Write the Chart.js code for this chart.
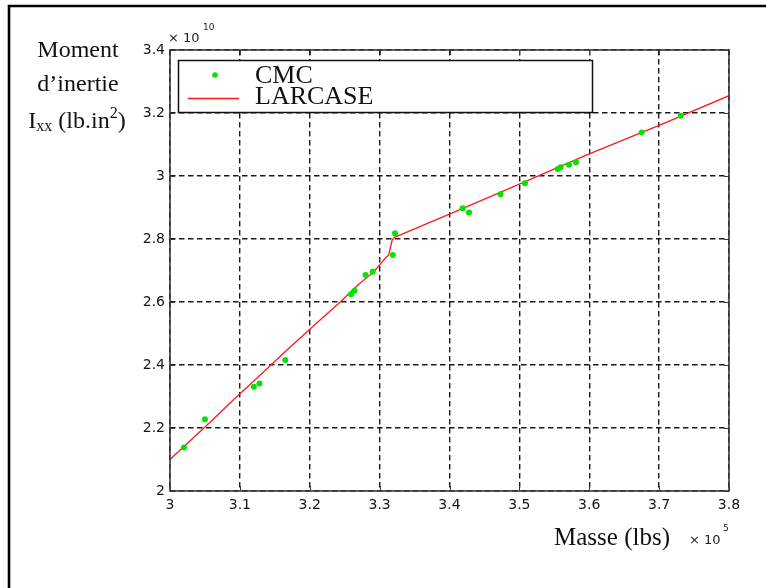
<!DOCTYPE html>
<html>
<head>
<meta charset="utf-8">
<script src="https://cdn.jsdelivr.net/npm/chart.js@4/dist/chart.umd.min.js"></script>
<style>
  html, body { margin: 0; padding: 0; background: #fff; }
  canvas { display: block; }
</style>
</head>
<body>
<canvas id="c" width="766" height="588"></canvas>
<script>
// Mass in units of 1e5 lbs, moment of inertia Ixx in units of 1e10 lb.in^2
const cmcMass = [3.020, 3.050, 3.120, 3.128, 3.165, 3.259, 3.264, 3.280, 3.290, 3.319, 3.322,
                 3.419, 3.428, 3.473, 3.508, 3.555, 3.559, 3.571, 3.581, 3.675, 3.731];
const cmcIxx  = [2.138, 2.228, 2.331, 2.341, 2.416, 2.625, 2.636, 2.686, 2.696, 2.749, 2.818,
                 2.898, 2.884, 2.942, 2.977, 3.022, 3.028, 3.036, 3.044, 3.138, 3.191];

const larcaseMass = [3.000, 3.030, 3.060, 3.090, 3.120, 3.167, 3.210, 3.244, 3.270, 3.291,
                     3.308, 3.313, 3.318, 3.322, 3.339, 3.400, 3.500, 3.600, 3.700, 3.800];
const larcaseIxx  = [2.100, 2.162, 2.224, 2.288, 2.349, 2.447, 2.533, 2.601, 2.656, 2.694,
                     2.739, 2.749, 2.797, 2.806, 2.822, 2.879, 2.974, 3.070, 3.161, 3.255];

const xTicks = [3, 3.1, 3.2, 3.3, 3.4, 3.5, 3.6, 3.7, 3.8];
const yTicks = [2, 2.2, 2.4, 2.6, 2.8, 3, 3.2, 3.4];

const seriesNames = ['CMC', 'LARCASE'];

const GREEN = '#00e400';
const RED = '#ff1a1a';
const SERIF = '"Liberation Serif", "Times New Roman", serif';
const SANS = '"DejaVu Sans", sans-serif';
const TXT = '#111';

const toPoints = (xs, ys) => xs.map((x, i) => ({ x: x, y: ys[i] }));

// Frame, axes box, inner ticks, axis titles, exponents and legend box
const decorations = {
  id: 'decorations',
  beforeDraw(chart) {
    const ctx = chart.ctx;
    ctx.save();
    ctx.fillStyle = '#fff';
    ctx.fillRect(0, 0, chart.width, chart.height);
    ctx.restore();
  },
  afterDraw(chart) {
    const ctx = chart.ctx;
    const a = chart.chartArea;
    const xs = chart.scales.x, ys = chart.scales.y;
    ctx.save();

    // outer frame (top and left edges)
    ctx.strokeStyle = '#000';
    ctx.lineWidth = 2.6;
    ctx.beginPath();
    ctx.moveTo(9, chart.height + 2);
    ctx.lineTo(9, 6);
    ctx.lineTo(chart.width + 2, 6);
    ctx.stroke();

    // axes box
    ctx.strokeStyle = '#3a3a3a';
    ctx.lineWidth = 1.6;
    ctx.strokeRect(a.left, a.top, a.right - a.left, a.bottom - a.top);

    // inner tick marks
    ctx.lineWidth = 1;
    ctx.beginPath();
    xTicks.forEach(v => {
      const px = Math.round(xs.getPixelForValue(v)) + 0.5;
      ctx.moveTo(px, a.bottom); ctx.lineTo(px, a.bottom - 5);
      ctx.moveTo(px, a.top); ctx.lineTo(px, a.top + 5);
    });
    yTicks.forEach(v => {
      const py = Math.round(ys.getPixelForValue(v)) + 0.5;
      ctx.moveTo(a.left, py); ctx.lineTo(a.left + 5, py);
      ctx.moveTo(a.right, py); ctx.lineTo(a.right - 5, py);
    });
    ctx.stroke();

    // exponent labels
    ctx.fillStyle = '#222';
    ctx.textBaseline = 'alphabetic';
    ctx.textAlign = 'left';
    ctx.font = '13px ' + SANS;
    ctx.fillText('\u00d7 10', a.left - 2, 42);
    ctx.font = '9px ' + SANS;
    ctx.fillText('10', a.left + 33, 30);
    ctx.font = '13px ' + SANS;
    ctx.fillText('\u00d7 10', 689, 544);
    ctx.font = '9px ' + SANS;
    ctx.fillText('5', 723, 531);

    // y axis title (three lines)
    ctx.fillStyle = TXT;
    ctx.textAlign = 'center';
    ctx.font = '24px ' + SERIF;
    ctx.fillText('Moment', 78, 57);
    ctx.fillText('d\u2019inertie', 78, 91);
    const big = '24px ' + SERIF, small = '16px ' + SERIF;
    const parts = [
      { t: 'I', f: big, dy: 0 },
      { t: 'xx', f: small, dy: 3 },
      { t: ' (lb.in', f: big, dy: 0 },
      { t: '2', f: small, dy: -10 },
      { t: ')', f: big, dy: 0 }
    ];
    let w = 0;
    parts.forEach(p => { ctx.font = p.f; p.w = ctx.measureText(p.t).width; w += p.w; });
    let x = 77 - w / 2;
    ctx.textAlign = 'left';
    parts.forEach(p => { ctx.font = p.f; ctx.fillText(p.t, x, 128 + p.dy); x += p.w; });

    // x axis title
    ctx.textAlign = 'center';
    ctx.font = '25px ' + SERIF;
    ctx.fillText('Masse (lbs)', 612, 545);

    // legend box
    ctx.fillStyle = '#fff';
    ctx.fillRect(178.5, 60.5, 414, 52);
    ctx.strokeStyle = '#111';
    ctx.lineWidth = 1.5;
    ctx.strokeRect(178.5, 60.5, 414, 52);
    ctx.fillStyle = GREEN;
    ctx.beginPath();
    ctx.arc(215, 75, 2.8, 0, Math.PI * 2);
    ctx.fill();
    ctx.strokeStyle = RED;
    ctx.lineWidth = 1.4;
    ctx.beginPath();
    ctx.moveTo(188, 98.5);
    ctx.lineTo(239, 98.5);
    ctx.stroke();
    ctx.fillStyle = TXT;
    ctx.textAlign = 'left';
    ctx.font = '26px ' + SERIF;
    ctx.fillText(seriesNames[0], 255, 82.5);
    ctx.fillText(seriesNames[1], 255, 104);

    ctx.restore();
  }
};

new Chart(document.getElementById('c'), {
  type: 'scatter',
  data: {
    datasets: [
      {
        label: seriesNames[0],
        data: toPoints(cmcMass, cmcIxx),
        showLine: false,
        pointRadius: 3,
        pointBorderWidth: 0,
        backgroundColor: GREEN,
        borderColor: GREEN,
        order: 0
      },
      {
        label: seriesNames[1],
        data: toPoints(larcaseMass, larcaseIxx),
        showLine: true,
        pointRadius: 0,
        borderColor: RED,
        borderWidth: 1.3,
        tension: 0,
        order: 1
      }
    ]
  },
  options: {
    responsive: false,
    animation: false,
    devicePixelRatio: 1,
    layout: { padding: { left: 0, top: 50, right: 37, bottom: 0 } },
    plugins: {
      legend: { display: false },
      tooltip: { enabled: false },
      title: { display: false }
    },
    scales: {
      x: {
        type: 'linear',
        min: xTicks[0],
        max: xTicks[xTicks.length - 1],
        afterFit: s => { s.height = 97; },
        afterBuildTicks: s => { s.ticks = xTicks.map(v => ({ value: v })); },
        ticks: {
          autoSkip: false,
          maxRotation: 0,
          padding: 6,
          color: '#151515',
          font: { family: '"DejaVu Sans", sans-serif', size: 14 },
          callback: v => String(v)
        },
        grid: { color: '#1a1a1a', lineWidth: 1.4, drawTicks: false },
        border: { display: false, dash: [5.5, 3.5] }
      },
      y: {
        type: 'linear',
        min: yTicks[0],
        max: yTicks[yTicks.length - 1],
        afterFit: s => { s.width = 170; },
        afterBuildTicks: s => { s.ticks = yTicks.map(v => ({ value: v })); },
        ticks: {
          autoSkip: false,
          padding: 5,
          color: '#151515',
          font: { family: '"DejaVu Sans", sans-serif', size: 14 },
          callback: v => String(v)
        },
        grid: { color: '#1a1a1a', lineWidth: 1.4, drawTicks: false },
        border: { display: false, dash: [5.5, 3.5] }
      }
    }
  },
  plugins: [decorations]
});
</script>
</body>
</html>
